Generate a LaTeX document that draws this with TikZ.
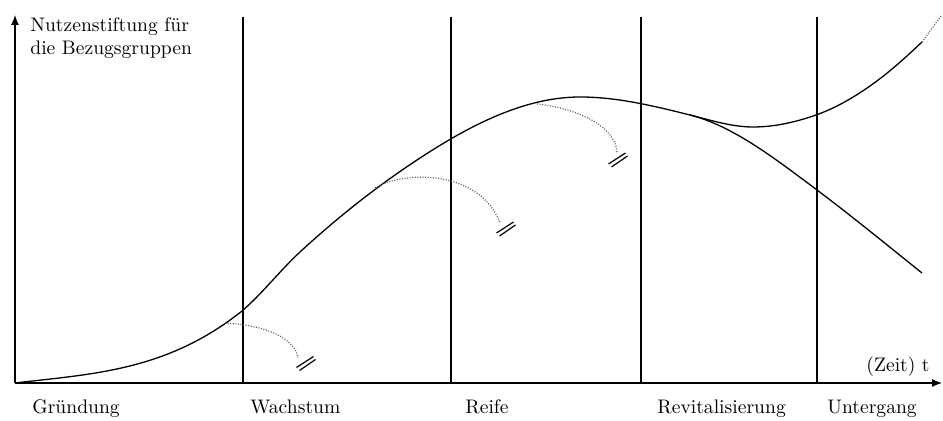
\documentclass[tikz,border=0pt]{standalone}
\usetikzlibrary{arrows.meta, calc}
\tikzset{
  axis/.style={-{Latex[length=5pt, width=4pt]}, line width=0.6pt},
  phs/.style={line width=0.6pt},
  crv/.style={line width=0.65pt},
  fail/.style={dash pattern=on 0.5pt off 0.8pt, black!65, line width=0.6pt},
  brk/.style={line width=0.6pt},
  lab/.style={font=\fontsize{9.8}{11.5}\selectfont, inner sep=0pt}
}
\newcommand{\brkmark}[1]{\draw[brk] ($(#1)+(-9,4)$) -- ($(#1)+(8,-7)$); \draw[brk] ($(#1)+(-6,7)$) -- ($(#1)+(10,-4)$);}

\begin{document}
\begin{tikzpicture}[x=0.5pt, y=-0.5pt]
		\useasboundingbox (0,0) rectangle (943,421);
		% axes
		\coordinate (o) at (15,383);
		\coordinate (ytip) at (15,15);
		\coordinate (xtip) at (942,383);
		\draw[axis] (o) -- (ytip);
		\draw[axis] (o) -- (xtip);
		\node[lab, anchor=north west, align=left] (ylab) at (30,17) {Nutzenstiftung für\\die Bezugsgruppen};
		\node[lab, anchor=base east] (zeit) at (930,372) {(Zeit) t};
		% phases
		\foreach \x in {243, 451, 641, 817}
			\draw[phs] (\x,383) -- (\x,17);
		\node[lab, anchor=base west] (gruend) at (32,414) {Gründung};
		\node[lab, anchor=base west] (wachs) at (250,414) {Wachstum};
		\node[lab, anchor=base west] (reife) at (465,414) {Reife};
		\node[lab, anchor=base west] (revit) at (657,414) {Revitalisierung};
		\node[lab, anchor=base west] (unter) at (827,414) {Untergang};
		% life cycle
		\coordinate (sp) at (690,115);
		\coordinate (top) at (922,42);
		\coordinate (topx) at (941,16);
		\coordinate (low) at (922,273);
		\draw[crv] (o) .. controls (90.7,374) and (166.3,371.5) .. (242,311)
			.. controls (261.3,294.6) and (280.7,269.8) .. (300,252)
			.. controls (339,216.1) and (378,185.7) .. (417,160)
			.. controls (471.3,124.1) and (525.7,97) .. (580,97)
			.. controls (616.7,97) and (653.3,105.8) .. (sp)
			.. controls (711,120.3) and (732,127) .. (753,127)
			.. controls (774,127) and (795,122.4) .. (816,115)
			.. controls (834,108.7) and (852,98.6) .. (870,86)
			.. controls (887.3,73.9) and (904.7,58.5) .. (top);
		\draw[crv] (sp) .. controls (732.3,125.6) and (774.7,158.3) .. (817,190)
			.. controls (852,216.3) and (887,245) .. (low);
		\draw[fail] (top) -- (topx);
		% failures
		\coordinate (f1) at (225,323);
		\coordinate (e1) at (298,358);
		\coordinate (b1) at (305.5,363.5);
		\draw[fail] (f1) .. controls (265,325) and (295,338) .. (e1);
		\brkmark{b1}
		\coordinate (f2) at (375,188);
		\coordinate (e2) at (500,223);
		\coordinate (b2) at (505.5,229);
		\draw[fail] (f2) .. controls (405,170) and (480,170) .. (e2);
		\brkmark{b2}
		\coordinate (f3) at (537,104);
		\coordinate (e3) at (617,152);
		\coordinate (b3) at (617.5,160);
		\draw[fail] (f3) .. controls (575,108) and (615,125) .. (e3);
		\brkmark{b3}
	\end{tikzpicture}
\end{document}
